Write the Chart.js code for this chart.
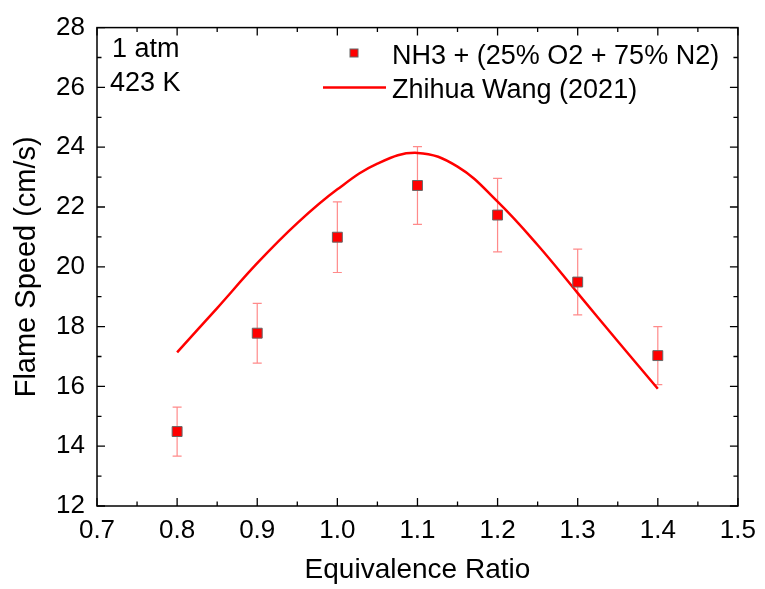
<!DOCTYPE html>
<html>
<head>
<meta charset="utf-8">
<script src="https://cdn.jsdelivr.net/npm/chart.js@4.4.1/dist/chart.umd.min.js"></script>
<style>
  html, body { margin: 0; padding: 0; background: #fff; }
  #wrap { width: 765px; height: 589px; }
</style>
</head>
<body>
<div id="wrap"><canvas id="flameChart" width="765" height="589"></canvas></div>
<script>
// === Data ===
const phiExp = [0.8, 0.9, 1.0, 1.1, 1.2, 1.3, 1.4];
const speedExp = [14.49, 17.78, 20.99, 22.72, 21.73, 19.49, 17.03];
const errExp = [0.82, 1.0, 1.18, 1.3, 1.23, 1.1, 0.97];

const phiSim = [0.8, 0.85, 0.9, 0.95, 1.0, 1.05, 1.1, 1.15, 1.2, 1.25, 1.3, 1.35, 1.4];
const speedSim = [17.14, 18.62, 20.12, 21.46, 22.59, 23.45, 23.81, 23.35, 22.18, 20.73, 19.12, 17.51, 15.92];

const xTickLabels = ["0.7", "0.8", "0.9", "1.0", "1.1", "1.2", "1.3", "1.4", "1.5"];
const yTickLabels = ["12", "14", "16", "18", "20", "22", "24", "26", "28"];

const expLabel = "NH3 + (25% O2 + 75% N2)";
const simLabel = "Zhihua Wang (2021)";
const noteLines = ["1 atm", "423 K"];

const FONT = "'Liberation Sans', Arial, sans-serif";
const RED = "#ff0000";

// === Error bars under the markers ===
const errorBars = {
  id: "errorBars",
  beforeDatasetsDraw(chart) {
    const { ctx, scales: { x, y } } = chart;
    ctx.save();
    ctx.strokeStyle = "rgba(255, 60, 60, 0.6)";
    ctx.lineWidth = 1.2;
    phiExp.forEach((phi, i) => {
      const px = x.getPixelForValue(phi);
      const top = y.getPixelForValue(speedExp[i] + errExp[i]);
      const bot = y.getPixelForValue(speedExp[i] - errExp[i]);
      ctx.beginPath();
      ctx.moveTo(px, top); ctx.lineTo(px, bot);
      ctx.moveTo(px - 4.5, top); ctx.lineTo(px + 4.5, top);
      ctx.moveTo(px - 4.5, bot); ctx.lineTo(px + 4.5, bot);
      ctx.stroke();
    });
    ctx.restore();
  }
};

// === Box frame with inward ticks, legend and note ===
const frameAndLegend = {
  id: "frameAndLegend",
  afterDraw(chart) {
    const { ctx, chartArea: a, scales: { x, y } } = chart;
    ctx.save();
    ctx.strokeStyle = "#000";
    ctx.lineWidth = 1.5;
    ctx.strokeRect(a.left, a.top, a.right - a.left, a.bottom - a.top);

    ctx.lineWidth = 1.3;
    ctx.beginPath();
    const xv = xTickLabels.map(Number);
    xv.forEach((v, i) => {
      const px = x.getPixelForValue(v);
      ctx.moveTo(px, a.bottom); ctx.lineTo(px, a.bottom - 8);
      ctx.moveTo(px, a.top); ctx.lineTo(px, a.top + 8);
      if (i < xv.length - 1) {
        const pm = x.getPixelForValue((v + xv[i + 1]) / 2);
        ctx.moveTo(pm, a.bottom); ctx.lineTo(pm, a.bottom - 4.5);
        ctx.moveTo(pm, a.top); ctx.lineTo(pm, a.top + 4.5);
      }
    });
    const yv = yTickLabels.map(Number);
    yv.forEach((v, i) => {
      const py = y.getPixelForValue(v);
      ctx.moveTo(a.left, py); ctx.lineTo(a.left + 8, py);
      ctx.moveTo(a.right, py); ctx.lineTo(a.right - 8, py);
      if (i < yv.length - 1) {
        const pm = y.getPixelForValue((v + yv[i + 1]) / 2);
        ctx.moveTo(a.left, pm); ctx.lineTo(a.left + 4.5, pm);
        ctx.moveTo(a.right, pm); ctx.lineTo(a.right - 4.5, pm);
      }
    });
    ctx.stroke();

    // note in the upper left corner
    ctx.fillStyle = "#000";
    ctx.font = "27px " + FONT;
    ctx.textBaseline = "alphabetic";
    ctx.textAlign = "left";
    ctx.fillText(noteLines[0], 112, 57);
    ctx.fillText(noteLines[1], 110, 91);

    // legend
    ctx.fillText(expLabel, 392, 64);
    ctx.fillText(simLabel, 392, 98);
    ctx.fillStyle = RED;
    ctx.strokeStyle = "#666";
    ctx.lineWidth = 1;
    ctx.fillRect(350, 49, 8, 8);
    ctx.strokeRect(350, 49, 8, 8);
    ctx.strokeStyle = RED;
    ctx.lineWidth = 2.5;
    ctx.beginPath();
    ctx.moveTo(323, 87.5); ctx.lineTo(386, 87.5);
    ctx.stroke();
    ctx.restore();
  }
};

const ctx = document.getElementById("flameChart");
new Chart(ctx.getContext("2d"), {
  type: "scatter",
  data: {
    datasets: [
      {
        label: expLabel,
        data: phiExp.map((p, i) => ({ x: p, y: speedExp[i] })),
        pointStyle: "rect",
        pointRadius: 7,
        backgroundColor: RED,
        borderColor: "#666",
        borderWidth: 1,
        showLine: false
      },
      {
        label: simLabel,
        data: phiSim.map((p, i) => ({ x: p, y: speedSim[i] })),
        showLine: true,
        pointRadius: 0,
        borderColor: RED,
        borderWidth: 2.5,
        tension: 0.4
      }
    ]
  },
  options: {
    responsive: false,
    animation: false,
    devicePixelRatio: 1,
    layout: { padding: { left: 0, top: 27, right: 23, bottom: 0 } },
    plugins: {
      legend: { display: false },
      tooltip: { enabled: false }
    },
    scales: {
      x: {
        type: "linear",
        min: 0.7,
        max: 1.5,
        grid: { display: false, drawTicks: false },
        border: { display: false },
        ticks: {
          stepSize: 0.1,
          padding: 9,
          color: "#000",
          font: { family: FONT, size: 26 },
          callback: (v) => Number(v).toFixed(1)
        },
        title: {
          display: true,
          text: "Equivalence Ratio",
          color: "#000",
          font: { family: FONT, size: 28 },
          padding: { top: 0, bottom: 2 }
        },
        afterFit(scale) { scale.height = 83; }
      },
      y: {
        type: "linear",
        min: 12,
        max: 28,
        grid: { display: false, drawTicks: false },
        border: { display: false },
        ticks: {
          stepSize: 2,
          padding: 12,
          color: "#000",
          font: { family: FONT, size: 26 },
          callback: (v) => String(v)
        },
        title: {
          display: true,
          text: "Flame Speed (cm/s)",
          color: "#000",
          font: { family: FONT, size: 29 },
          padding: { top: 10, bottom: 0 }
        },
        afterFit(scale) { scale.width = 97; }
      }
    }
  },
  plugins: [errorBars, frameAndLegend]
});
</script>
</body>
</html>
